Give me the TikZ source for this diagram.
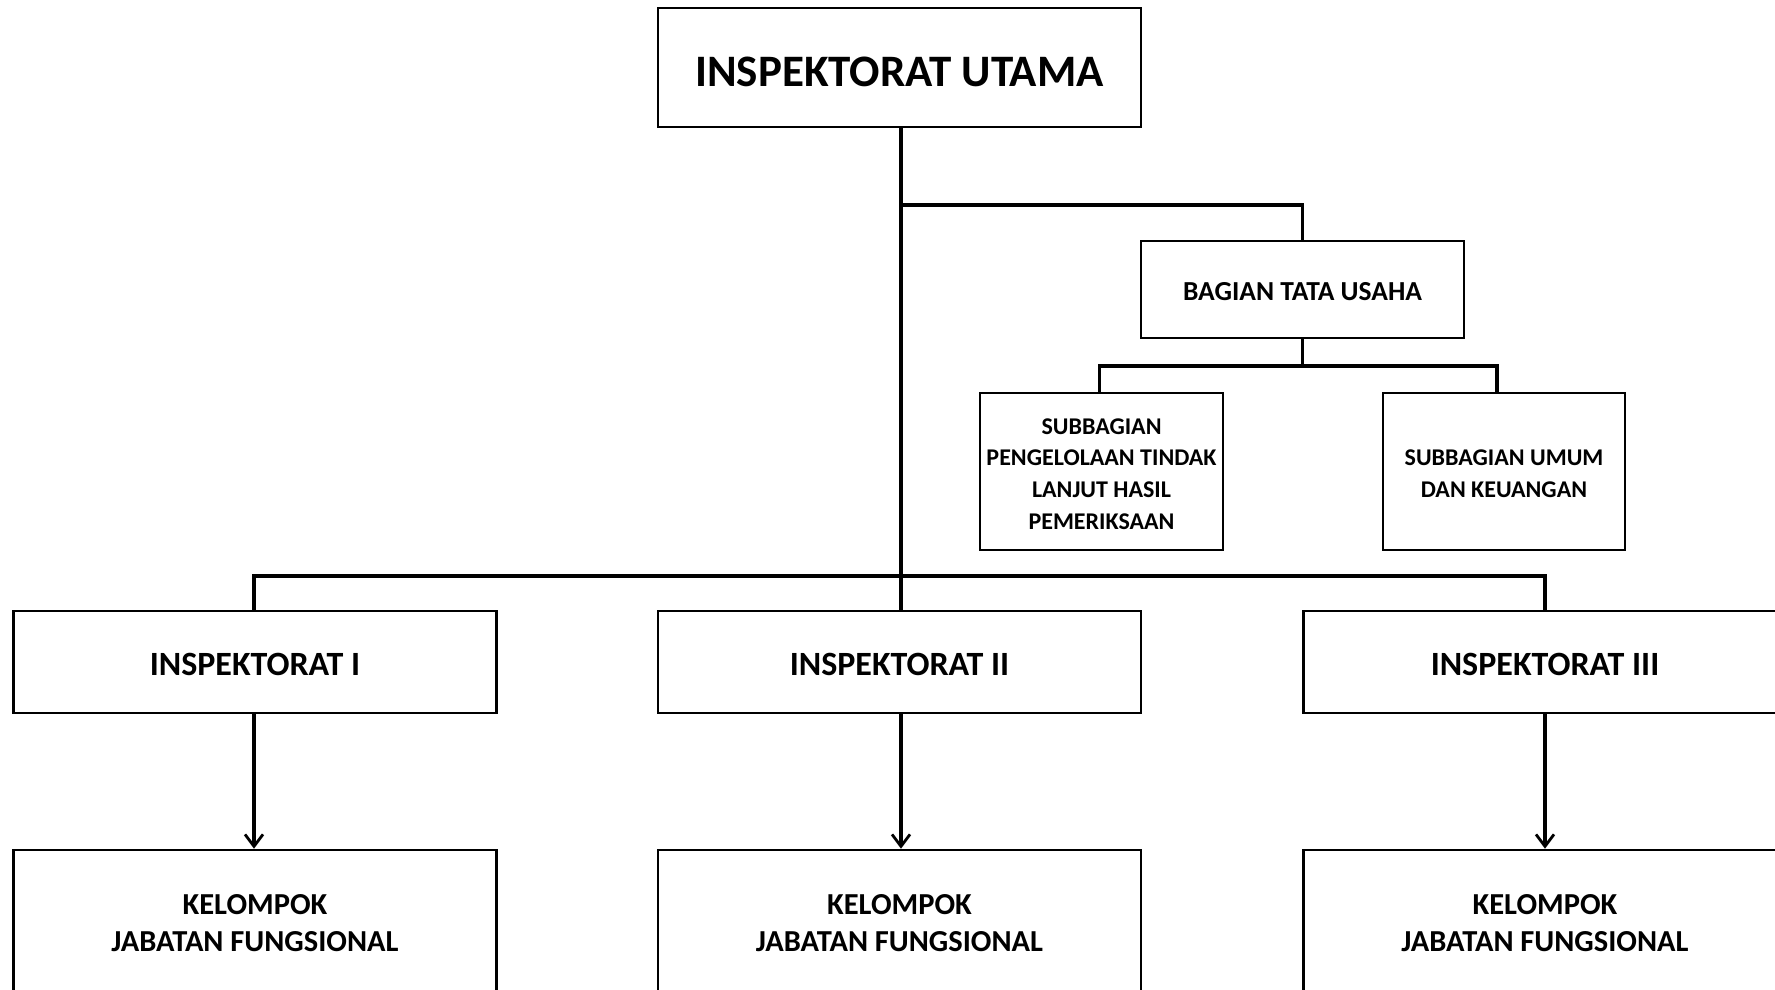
\documentclass[tikz,border=0pt]{standalone}
\usepackage{fontspec}
\setmainfont{Carlito}
\usetikzlibrary{arrows.meta}
\begin{document}
\begin{tikzpicture}[x=1pt,y=-1pt,
  box/.style={draw, line width=2.6pt, inner sep=0pt},
  txt/.style={font=\bfseries\fontsize{#1}{#1}\selectfont, align=center, inner sep=0pt},
  conn/.style={line width=3.2pt},
  arr/.style={line width=3.2pt, -{Straight Barb[length=12pt,width=18pt,line width=2.8pt]}}]
\useasboundingbox (0,0) rectangle (1775,990);
\clip (0,0) rectangle (1775,990);
\fill[white] (0,0) rectangle (1775,990);
% nodes
\node[box, minimum width=483pt, minimum height=119pt,
  label={[txt=45, yshift=-4pt]center:INSPEKTORAT UTAMA}] (utama) at (899.5,67.5) {};
\node[box, minimum width=323pt, minimum height=97pt,
  label={[txt=27.5, yshift=-2.5pt]center:BAGIAN TATA USAHA}] (btu) at (1302.5,289.5) {};
\node[box, minimum width=243pt, minimum height=157pt,
  label={[txt=24, yshift=-2.5pt, execute at begin node=\setlength{\baselineskip}{31.7pt}]center:SUBBAGIAN\\PENGELOLAAN TINDAK\\LANJUT HASIL\\PEMERIKSAAN}] (sub1) at (1101.5,471.5) {};
\node[box, minimum width=242pt, minimum height=157pt,
  label={[txt=24, yshift=-2.5pt, execute at begin node=\setlength{\baselineskip}{31.7pt}]center:SUBBAGIAN UMUM\\DAN KEUANGAN}] (sub2) at (1504,471.5) {};
\node[box, minimum width=483pt, minimum height=102pt,
  label={[txt=34, yshift=-2.5pt]center:INSPEKTORAT I}] (insp1) at (255,662) {};
\node[box, minimum width=483pt, minimum height=102pt,
  label={[txt=34, yshift=-2.5pt]center:INSPEKTORAT II}] (insp2) at (899.5,662) {};
\node[box, minimum width=483pt, minimum height=102pt,
  label={[txt=34, yshift=-2.5pt]center:INSPEKTORAT III}] (insp3) at (1545,662) {};
\node[box, minimum width=483pt, minimum height=144pt,
  label={[txt=30.5, yshift=-1pt, execute at begin node=\setlength{\baselineskip}{37.5pt}]center:KELOMPOK\\JABATAN FUNGSIONAL}] (kel1) at (255,922) {};
\node[box, minimum width=483pt, minimum height=144pt,
  label={[txt=30.5, yshift=-1pt, execute at begin node=\setlength{\baselineskip}{37.5pt}]center:KELOMPOK\\JABATAN FUNGSIONAL}] (kel2) at (899.5,922) {};
\node[box, minimum width=483pt, minimum height=144pt,
  label={[txt=30.5, yshift=-1pt, execute at begin node=\setlength{\baselineskip}{37.5pt}]center:KELOMPOK\\JABATAN FUNGSIONAL}] (kel3) at (1545,922) {};
% junction coordinates
\coordinate (j1) at (901,205);
\coordinate (j2) at (1302.5,366);
\coordinate (j3) at (901,576);
% connectors
\draw[conn] ([xshift=1.5pt]utama.south) -- ([xshift=1.5pt]insp2.north);
\draw[conn] (j1) -| (btu.north);
\draw[conn] (btu.south) -- (j2);
\draw[conn] (j2) -| ([xshift=-2pt]sub1.north);
\draw[conn] (j2) -| ([xshift=-7pt]sub2.north);
\draw[conn] ([xshift=-1pt]insp1.north) |- (j3) -| (insp3.north);
\draw[arr] ([xshift=-1pt]insp1.south) -- ([xshift=-1pt]kel1.north);
\draw[arr] ([xshift=1.5pt]insp2.south) -- ([xshift=1.5pt]kel2.north);
\draw[arr] (insp3.south) -- (kel3.north);
\end{tikzpicture}
\end{document}
